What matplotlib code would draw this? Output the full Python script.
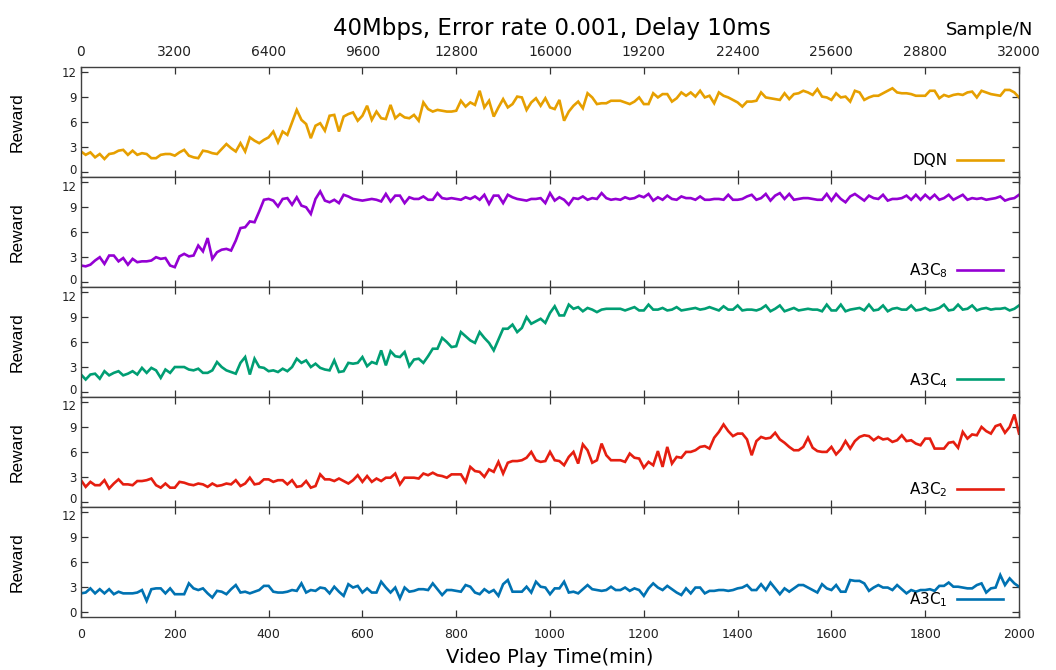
import numpy as np
import matplotlib
matplotlib.use("Agg")
import matplotlib.pyplot as plt
from matplotlib.transforms import ScaledTranslation

# Reward traces, one sample every 10 minutes of play time (0..2000 min)
dqn = [
    2.5, 2.1, 2.4, 1.8, 2.2, 1.6, 2.2, 2.3, 2.6, 2.7,
    2.1, 2.6, 2.1, 2.3, 2.2, 1.7, 1.7, 2.1, 2.2, 2.2,
    2.0, 2.4, 2.7, 2.0, 1.8, 1.7, 2.6, 2.5, 2.3, 2.2,
    2.8, 3.4, 2.9, 2.5, 3.5, 2.5, 4.2, 3.8, 3.5, 3.9,
    4.2, 4.9, 3.6, 4.9, 4.5, 6.0, 7.5, 6.3, 5.8, 4.1,
    5.6, 5.9, 5.0, 6.8, 6.9, 4.9, 6.7, 7.0, 7.2, 6.2,
    6.8, 8.0, 6.3, 7.3, 6.5, 6.4, 8.1, 6.5, 7.0, 6.6,
    6.5, 6.9, 6.2, 8.4, 7.6, 7.3, 7.5, 7.4, 7.3, 7.3,
    7.4, 8.6, 7.9, 8.4, 8.1, 9.8, 7.8, 8.6, 6.7, 7.8,
    8.8, 7.8, 8.2, 9.1, 9.0, 7.5, 8.4, 8.9, 8.0, 8.9,
    7.8, 7.6, 8.7, 6.2, 7.3, 8.0, 8.5, 7.7, 9.5, 9.0,
    8.2, 8.3, 8.3, 8.6, 8.6, 8.6, 8.4, 8.2, 8.5, 9.0,
    8.2, 8.2, 9.5, 9.0, 9.4, 9.4, 8.5, 8.9, 9.6, 9.2,
    9.6, 9.1, 9.8, 9.0, 9.2, 8.3, 9.6, 9.2, 9.0, 8.7,
    8.4, 7.9, 8.5, 8.5, 8.6, 9.6, 9.0, 8.9, 8.8, 8.7,
    9.5, 8.8, 9.4, 9.5, 9.8, 9.6, 9.3, 10.0, 9.1, 9.0,
    8.7, 9.5, 9.0, 9.1, 8.5, 9.8, 9.6, 8.7, 9.0, 9.2,
    9.2, 9.5, 9.8, 10.1, 9.6, 9.5, 9.5, 9.4, 9.2, 9.2,
    9.2, 9.8, 9.8, 8.9, 9.3, 9.1, 9.3, 9.4, 9.3, 9.6,
    9.7, 9.0, 9.8, 9.6, 9.4, 9.3, 9.2, 9.9, 9.9, 9.6,
    9.0,
]

a3c8 = [
    2.0, 1.9, 2.1, 2.6, 3.0, 2.2, 3.2, 3.2, 2.5, 2.9,
    2.1, 2.8, 2.4, 2.5, 2.5, 2.6, 3.0, 2.8, 2.9, 2.0,
    1.8, 3.1, 3.4, 3.1, 3.2, 4.4, 3.7, 5.3, 2.8, 3.6,
    3.9, 4.0, 3.8, 5.0, 6.5, 6.6, 7.3, 7.2, 8.5, 9.9,
    10.0, 9.8, 9.1, 10.0, 10.1, 9.3, 10.2, 9.2, 9.0, 8.2,
    10.0, 10.9, 9.8, 9.6, 9.9, 9.5, 10.5, 10.3, 10.0, 9.9,
    9.8, 9.9, 10.0, 9.9, 9.7, 10.6, 9.7, 10.4, 10.4, 9.5,
    10.2, 10.0, 10.0, 10.3, 9.9, 9.9, 10.7, 10.1, 10.0, 10.1,
    10.0, 9.9, 10.2, 10.0, 10.3, 9.9, 10.5, 9.4, 10.4, 10.4,
    9.5, 10.5, 10.2, 10.0, 9.9, 9.8, 10.0, 10.0, 10.1, 9.5,
    10.7, 9.8, 10.2, 9.9, 9.3, 10.1, 10.0, 10.3, 9.9, 10.1,
    10.0, 10.7, 10.1, 9.9, 10.0, 9.9, 10.2, 10.0, 10.1, 10.4,
    10.2, 10.6, 9.8, 10.2, 9.9, 10.4, 10.0, 9.9, 10.3, 10.1,
    10.1, 9.9, 10.3, 9.9, 9.9, 10.0, 10.0, 9.9, 10.5, 9.9,
    9.9, 10.0, 10.3, 10.5, 9.9, 10.1, 10.6, 9.8, 10.4, 10.7,
    10.0, 10.6, 9.9, 10.0, 10.1, 10.1, 10.0, 9.9, 9.9, 10.6,
    9.8, 10.6, 10.0, 9.6, 10.3, 10.6, 10.2, 9.8, 10.4, 10.1,
    10.0, 10.5, 9.8, 10.0, 10.0, 10.1, 10.4, 9.9, 10.5, 9.9,
    10.5, 10.0, 10.5, 9.9, 10.1, 10.5, 9.9, 10.2, 10.5, 9.9,
    10.1, 10.0, 10.1, 9.9, 10.0, 10.1, 10.3, 9.8, 10.0, 10.1,
    10.5,
]

a3c4 = [
    2.1, 1.5, 2.1, 2.2, 1.6, 2.5, 2.0, 2.3, 2.5, 2.0,
    2.2, 2.5, 2.1, 2.9, 2.3, 2.9, 2.6, 1.7, 2.7, 2.3,
    3.0, 3.0, 3.0, 2.7, 2.6, 2.8, 2.3, 2.3, 2.6, 3.6,
    3.0, 2.6, 2.4, 2.2, 3.5, 4.2, 2.1, 4.0, 3.0, 2.9,
    2.5, 2.6, 2.4, 2.8, 2.5, 3.0, 4.0, 3.5, 3.8, 3.0,
    3.4, 2.9, 2.7, 2.6, 3.8, 2.4, 2.5, 3.5, 3.4, 3.5,
    4.2, 3.1, 3.6, 3.4, 5.0, 3.2, 4.9, 4.3, 4.2, 4.8,
    3.1, 3.9, 4.0, 3.5, 4.3, 5.2, 5.2, 6.5, 6.0, 5.4,
    5.5, 7.2, 6.7, 6.2, 5.9, 7.2, 6.5, 5.9, 5.0, 6.3,
    7.6, 7.6, 8.1, 7.2, 7.7, 9.0, 8.2, 8.5, 8.8, 8.3,
    9.5, 10.3, 9.2, 9.2, 10.5, 10.0, 10.2, 9.7, 10.1, 9.9,
    9.6, 9.9, 10.0, 10.0, 10.0, 10.0, 9.8, 10.0, 10.2, 9.8,
    9.8, 10.5, 9.9, 9.9, 10.1, 9.8, 9.9, 10.2, 9.8, 9.9,
    10.0, 10.1, 9.9, 10.0, 10.2, 10.0, 9.8, 10.3, 9.9, 9.9,
    10.4, 9.8, 9.9, 9.9, 9.8, 10.0, 10.4, 9.7, 10.0, 10.4,
    9.7, 9.9, 10.1, 9.8, 9.9, 10.0, 9.9, 9.9, 9.7, 10.5,
    9.8, 9.8, 10.5, 9.7, 9.9, 10.0, 10.1, 9.8, 10.5, 9.8,
    9.9, 10.4, 9.7, 10.0, 10.1, 9.9, 9.9, 10.4, 9.8, 9.9,
    10.1, 9.8, 9.9, 10.1, 10.5, 9.8, 9.9, 10.5, 9.9, 10.0,
    10.4, 9.8, 10.0, 10.1, 9.9, 10.0, 10.0, 10.1, 9.8, 10.0,
    10.4,
]

a3c2 = [
    2.6, 1.8, 2.4, 2.0, 2.0, 2.6, 1.6, 2.2, 2.7, 2.1,
    2.1, 2.0, 2.5, 2.5, 2.6, 2.8, 2.0, 1.7, 2.2, 1.7,
    1.7, 2.4, 2.3, 2.1, 2.0, 2.2, 2.1, 1.8, 2.2, 1.9,
    2.0, 2.2, 2.1, 2.6, 1.9, 2.2, 2.9, 2.1, 2.2, 2.7,
    2.7, 2.4, 2.6, 2.6, 2.1, 2.6, 1.8, 1.9, 2.5, 1.7,
    1.9, 3.3, 2.7, 2.7, 2.5, 2.8, 2.5, 2.2, 2.6, 3.2,
    2.4, 3.1, 2.4, 2.8, 2.5, 2.9, 2.9, 3.4, 2.1, 2.9,
    2.9, 2.9, 2.8, 3.4, 3.2, 3.5, 3.2, 3.1, 2.9, 3.3,
    3.3, 3.3, 2.4, 4.2, 3.7, 3.6, 3.0, 3.9, 3.6, 4.8,
    3.4, 4.7, 4.9, 4.9, 5.0, 5.3, 6.0, 5.0, 4.8, 4.9,
    6.0, 5.0, 4.9, 4.4, 5.4, 6.0, 4.6, 6.9, 6.2, 4.7,
    5.0, 7.0, 5.6, 5.0, 5.0, 5.0, 4.8, 5.8, 5.3, 5.2,
    4.1, 4.8, 4.4, 6.1, 4.2, 6.6, 4.6, 5.4, 5.3, 6.0,
    6.0, 6.2, 6.6, 6.7, 6.4, 7.7, 8.4, 9.3, 8.5, 7.9,
    8.2, 8.2, 7.5, 5.6, 7.3, 7.8, 7.6, 7.7, 8.3, 7.5,
    7.1, 6.6, 6.2, 6.2, 6.6, 7.7, 6.5, 6.1, 6.0, 6.0,
    6.6, 5.7, 6.3, 7.3, 6.4, 7.3, 7.8, 8.0, 7.9, 7.4,
    7.8, 7.5, 7.6, 7.2, 7.4, 8.0, 7.3, 7.4, 7.0, 6.8,
    7.6, 7.6, 6.4, 6.4, 6.4, 7.1, 7.2, 6.5, 8.4, 7.6,
    8.1, 8.0, 9.0, 8.5, 8.2, 9.1, 9.3, 8.3, 9.0, 10.5,
    8.2,
]

a3c1 = [
    2.2, 2.3, 2.8, 2.2, 2.7, 2.2, 2.7, 2.1, 2.4, 2.2,
    2.2, 2.2, 2.3, 2.6, 1.3, 2.7, 2.8, 2.8, 2.2, 2.8,
    2.1, 2.1, 2.1, 3.4, 2.8, 2.6, 2.8, 2.2, 1.7, 2.5,
    2.4, 2.1, 2.7, 3.2, 2.3, 2.4, 2.2, 2.4, 2.6, 3.1,
    3.1, 2.4, 2.3, 2.3, 2.4, 2.6, 2.5, 3.4, 2.3, 2.6,
    2.5, 2.9, 2.8, 2.2, 3.0, 2.4, 1.9, 3.3, 2.9, 3.1,
    2.3, 2.8, 2.3, 2.3, 3.6, 2.9, 2.3, 2.9, 1.6, 2.9,
    2.4, 2.5, 2.7, 2.7, 2.6, 3.4, 2.7, 2.0, 2.6, 2.6,
    2.5, 2.4, 3.2, 3.0, 2.3, 2.1, 2.7, 2.3, 2.6, 1.9,
    3.3, 3.8, 2.4, 2.4, 2.4, 3.0, 2.3, 3.6, 3.0, 2.9,
    2.1, 2.8, 2.8, 3.6, 2.3, 2.4, 2.2, 2.7, 3.2, 2.7,
    2.6, 2.5, 2.6, 3.0, 2.6, 2.6, 2.9, 2.5, 2.8, 2.6,
    1.9, 2.8, 3.4, 2.9, 2.6, 3.1, 2.7, 2.3, 2.0, 2.8,
    2.2, 2.9, 2.9, 2.2, 2.5, 2.5, 2.6, 2.6, 2.5, 2.6,
    2.8, 2.9, 3.2, 2.6, 2.6, 3.3, 2.6, 3.5, 2.8, 2.1,
    2.8, 2.4, 2.8, 3.2, 3.2, 2.9, 2.6, 2.3, 3.3, 2.8,
    2.6, 3.2, 2.4, 2.4, 3.8, 3.7, 3.7, 3.4, 2.5, 2.9,
    3.2, 2.9, 2.9, 2.6, 3.2, 2.7, 2.2, 2.6, 2.4, 2.6,
    2.6, 2.7, 2.5, 3.1, 3.1, 3.5, 3.0, 3.0, 2.9, 2.8,
    2.8, 3.2, 3.4, 2.3, 2.8, 2.9, 4.4, 3.2, 4.0, 3.4,
    3.0,
]

series = [
    ("DQN", dqn, "#E69F00"),
    ("A3C$_8$", a3c8, "#9400D3"),
    ("A3C$_4$", a3c4, "#009E73"),
    ("A3C$_2$", a3c2, "#E51E10"),
    ("A3C$_1$", a3c1, "#0072B2"),
]

time_ticks = list(range(0, 2001, 200))
sample_ticks = list(range(0, 32001, 3200))
reward_ticks = [0, 3, 6, 9, 12]
samples_per_minute = 16

plt.rcParams["mathtext.fontset"] = "dejavusans"

fig = plt.figure(figsize=(10.56, 6.70), dpi=100)
gs = fig.add_gridspec(5, 1, left=0.0767, right=0.9650, top=0.8993,
                      bottom=0.0796, hspace=0.0)
axes = [fig.add_subplot(gs[k]) for k in range(5)]

spine_color = "#404040"
tick_color = "#333333"

for ax, (name, values, color) in zip(axes, series):
    y = np.asarray(values)
    x = np.linspace(0, 2000, len(y))
    ax.plot(x, y, color=color, lw=1.9, label=name, solid_joinstyle="miter")
    ax.set_xlim(0, 2000)
    ax.set_ylim(-0.6, 12.6)
    ax.set_xticks(time_ticks)
    ax.set_yticks(reward_ticks)
    ax.tick_params(direction="in", top=True, right=True, length=5,
                   width=0.9, color=tick_color, labelsize=8.5,
                   labelcolor="#222222", pad=3)
    ax.tick_params(axis="x", labelbottom=False)
    for s in ax.spines.values():
        s.set_color(spine_color)
        s.set_linewidth(1.0)
    ax.set_ylabel("Reward", fontsize=12.5, family="Liberation Sans")
    ax.yaxis.set_label_coords(-0.0597, 0.5)
    ax.legend(loc="center right", bbox_to_anchor=(0.983, 0.153),
              frameon=False, markerfirst=False, handlelength=3.0,
              handletextpad=0.6, borderpad=0, borderaxespad=0,
              fontsize=11)

# Where two panels meet, nudge the "0" and "12" labels apart a little
n_panels = len(axes)
for k, ax in enumerate(axes):
    labels = ax.get_yticklabels()
    if k < n_panels - 1:
        lbl = labels[0]
        lbl.set_transform(lbl.get_transform() +
                          ScaledTranslation(0, 2.5 / 72, fig.dpi_scale_trans))
    if k > 0:
        lbl = labels[-1]
        lbl.set_transform(lbl.get_transform() +
                          ScaledTranslation(0, -2.5 / 72, fig.dpi_scale_trans))

bottom = axes[-1]
bottom.tick_params(axis="x", labelbottom=True, labelsize=9, pad=8)
bottom.set_xlabel("Video Play Time(min)", fontsize=14, labelpad=5)

top = axes[0]
sec = top.secondary_xaxis(
    "top",
    functions=(lambda t: t * samples_per_minute,
               lambda s: s / samples_per_minute))
sec.set_xticks(sample_ticks)
sec.tick_params(direction="in", length=0, labelsize=10, pad=6,
                labelcolor="#222222")
sec.spines["top"].set_visible(False)

fig.text(0.937, 0.955, "Sample/N", ha="center", va="center", fontsize=13)
fig.suptitle("40Mbps, Error rate 0.001, Delay 10ms", x=0.523, y=0.975,
             fontsize=16.5)

fig.savefig("out.png", dpi=100)
